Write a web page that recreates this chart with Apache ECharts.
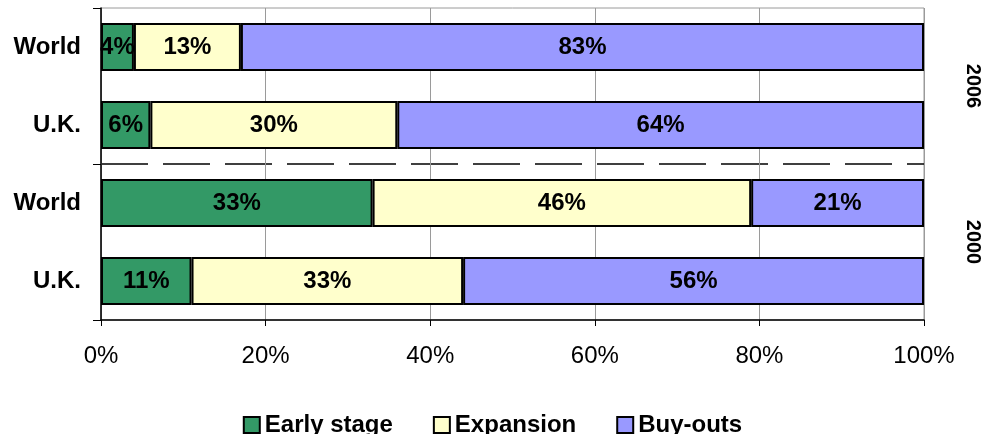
<!DOCTYPE html>
<html>
<head>
<meta charset="utf-8">
<script src="https://cdn.jsdelivr.net/npm/echarts@6/dist/echarts.min.js"></script>
<style>
    html, body { margin: 0; padding: 0; background: #fff; }
    #chart { width: 985px; height: 434px; }
</style>
</head>
<body>
<div id="chart"></div>
<script>
// rows top to bottom: 2006 World, 2006 U.K., 2000 World, 2000 U.K.
var regions = ['World', 'U.K.', 'World', 'U.K.'];
var years = ['2006', '2000'];
var earlyStage = [4, 6, 33, 11];
var expansion = [13, 30, 46, 33];
var buyOuts = [83, 64, 21, 56];
var xTicks = [0, 20, 40, 60, 80, 100];

var font = 'Liberation Sans, Arial, Helvetica, sans-serif';

function makeSeries(name, data, color) {
    return {
        name: name,
        type: 'bar',
        stack: 'total',
        data: data,
        barWidth: 48,
        itemStyle: {
            color: color,
            borderColor: '#000',
            borderWidth: 2
        },
        label: {
            show: true,
            position: 'inside',
            formatter: '{c}%',
            color: '#000',
            fontFamily: font,
            fontWeight: 'bold',
            fontSize: 24
        },
        emphasis: { disabled: true }
    };
}

var chart = echarts.init(document.getElementById('chart'));
chart.setOption({
    animation: false,
    textStyle: { fontFamily: font },
    grid: {
        left: 101,
        right: 61,
        top: 8,
        bottom: 114,
        show: true,
        borderColor: '#9a9a9a',
        borderWidth: 1
    },
    legend: {
        bottom: -8,
        left: 'center',
        itemWidth: 16,
        itemHeight: 16,
        itemGap: 40,
        icon: 'rect',
        textStyle: {
            fontFamily: font,
            fontWeight: 'bold',
            fontSize: 24,
            color: '#000'
        },
        data: ['Early stage', 'Expansion', 'Buy-outs']
    },
    xAxis: {
        type: 'value',
        min: xTicks[0],
        max: xTicks[xTicks.length - 1],
        interval: 20,
        axisLine: { show: true, lineStyle: { color: '#000', width: 1.5 } },
        axisTick: { show: true, length: 6, lineStyle: { color: '#000' } },
        axisLabel: {
            formatter: '{value}%',
            color: '#000',
            fontFamily: font,
            fontSize: 24,
            margin: 24
        },
        splitLine: { show: true, lineStyle: { color: '#9a9a9a', width: 1 } }
    },
    yAxis: [
        {
            type: 'category',
            inverse: true,
            data: regions,
            axisLine: { show: true, lineStyle: { color: '#000', width: 1.5 } },
            axisTick: { show: false },
            axisLabel: {
                interval: 0,
                color: '#000',
                fontFamily: font,
                fontWeight: 'bold',
                fontSize: 24,
                margin: 20
            },
            splitLine: { show: false }
        },
        {
            type: 'category',
            inverse: true,
            position: 'right',
            data: years,
            axisLine: { show: false },
            axisTick: { show: false },
            splitLine: { show: false },
            axisLabel: {
                rotate: -90,
                color: '#000',
                fontFamily: font,
                fontWeight: 'bold',
                fontSize: 20,
                margin: 39
            }
        },
        {
            // year-group axis: ticks at group edges and the dashed divider
            type: 'value',
            position: 'left',
            min: 0,
            max: 4,
            interval: 2,
            axisLine: { show: false },
            axisLabel: { show: false },
            axisTick: { show: true, length: 8, lineStyle: { color: '#000' } },
            splitLine: {
                show: true,
                showMinLine: false,
                showMaxLine: false,
                lineStyle: { color: '#000', width: 1.5, type: [47, 15] }
            }
        }
    ],
    series: [
        makeSeries('Early stage', earlyStage, '#339966'),
        makeSeries('Expansion', expansion, '#ffffcc'),
        makeSeries('Buy-outs', buyOuts, '#9999ff')
    ]
});
</script>
</body>
</html>
